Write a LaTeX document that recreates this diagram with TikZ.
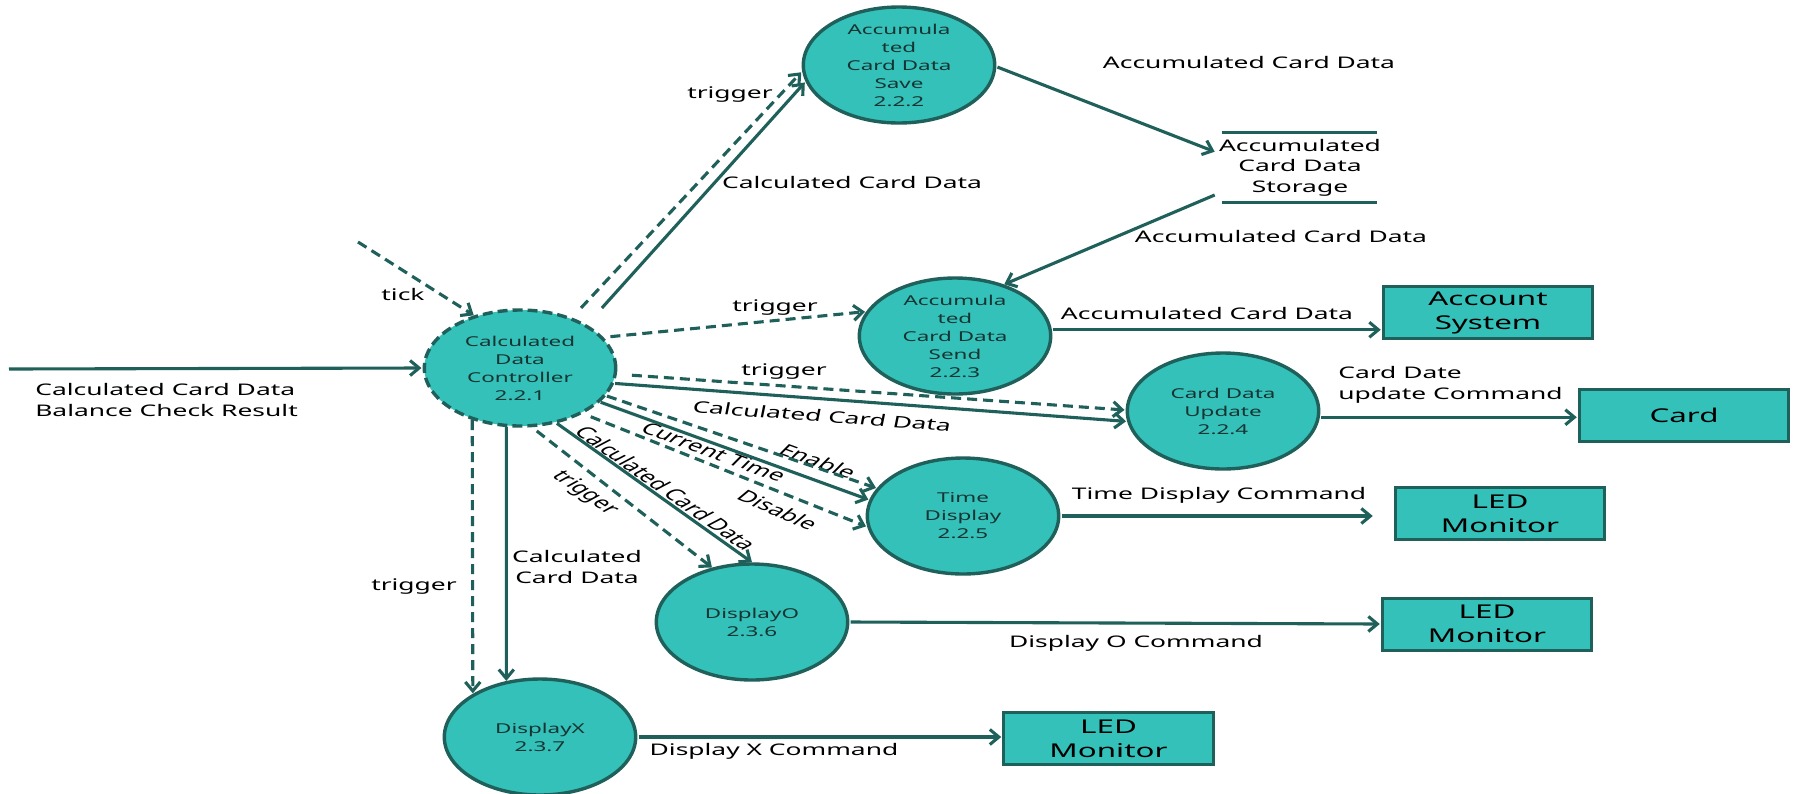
\documentclass[tikz,border=0pt]{standalone}
\usepackage{fontspec}
\setmainfont{Noto Sans}
\usetikzlibrary{arrows.meta}
\definecolor{procfill}{RGB}{52,193,185}
\definecolor{flowline}{RGB}{31,96,90}
\definecolor{proctext}{RGB}{22,52,50}
\tikzset{
  proc/.style={circle, draw=flowline, fill=procfill, line width=3.4pt,
    minimum size=116pt, inner sep=0pt, xscale=1.65, align=center,
    text=proctext, font=\fontsize{13.6}{18}\selectfont},
  ctrlproc/.style={proc, dash pattern=on 10pt off 5pt},
  extent/.style={rectangle, draw=flowline, fill=procfill, line width=3pt,
    minimum width=127pt, minimum height=52pt, inner sep=0pt, xscale=1.65,
    align=center, font=\fontsize{19}{24}\selectfont},
  flowtext/.style={inner sep=0pt, xscale=1.65, align=center,
    font=\fontsize{16}{20.5}\selectfont},
  store/.style={flowtext, minimum width=103pt, minimum height=69pt},
  flow/.style={draw=flowline, line width=3.1pt,
    -{Straight Barb[length=9pt,width=15pt]}},
  ctrl/.style={flow, dash pattern=on 10pt off 6pt}
}
\begin{document}
\begin{tikzpicture}[x=1pt,y=-1pt]
  \useasboundingbox (0,0) rectangle (1801,793);
  \node[ctrlproc] (p221) at (520,368) {Calculated\\Data\\Controller\\2.2.1};
  \node[proc] (p222) at (899,65) {Accumula\\ted\\Card Data\\Save\\2.2.2};
  \node[proc] (p223) at (955,336) {Accumula\\ted\\Card Data\\Send\\2.2.3};
  \node[proc] (p224) at (1223,411) {Card Data\\Update\\2.2.4};
  \node[proc] (p225) at (963,516) {Time\\Display\\2.2.5};
  \node[proc] (p236) at (752,622) {DisplayO\\2.3.6};
  \node[proc] (p237) at (540,737) {DisplayX\\2.3.7};
  \node[store] (store) at (1300,167.5) {Accumulated\\Card Data\\Storage};
  \node[extent] (acc) at (1488,312.5) {Account\\System};
  \node[extent] (card) at (1684,415.5) {Card};
  \node[extent] (led1) at (1500,513.5) {LED\\Monitor};
  \node[extent] (led2) at (1487,624) {LED\\Monitor};
  \node[extent] (led3) at (1108.5,738.5) {LED\\Monitor};
  \coordinate (inp) at (9,369);
  \coordinate (tk) at (358,242);

  \node[flowtext] (ltick) at (403,294) {tick};
  \node[flowtext, anchor=west, align=left] (lin) at (35,400) {Calculated Card Data\\Balance Check Result};
  \node[flowtext] (ltrig2) at (730,95) {trigger};
  \node[flowtext] (lcalc2) at (852,182) {Calculated Card Data};
  \node[flowtext] (lacc1) at (1249,62) {Accumulated Card Data};
  \node[flowtext] (lacc2) at (1281,236) {Accumulated Card Data};
  \node[flowtext] (ltrig3) at (775,308) {trigger};
  \node[flowtext] (lacc3) at (1207,313) {Accumulated Card Data};
  \node[flowtext] (ltrig4) at (784,372) {trigger};
  \node[flowtext, rotate=-7] (lcalc4) at (822,416) {Calculated Card Data};
  \node[flowtext, anchor=west, align=left] (lupd) at (1338,385) {Card Date\\update Command};
  \node[flowtext, rotate=-31] (ltime) at (714,452) {Current Time};
  \node[flowtext, rotate=-31] (lenab) at (818,461) {Enable};
  \node[flowtext, rotate=-36] (ldisab) at (778,510) {Disable};
  \node[flowtext, rotate=-48] (ltrig6) at (585,493) {trigger};
  \node[flowtext, rotate=-49] (lcalc6) at (666,488) {Calculated Card Data};
  \node[flowtext] (ltrig7) at (414,587) {trigger};
  \node[flowtext] (lcalc7) at (577,567) {Calculated\\Card Data};
  \node[flowtext] (ltdc) at (1219,495) {Time Display Command};
  \node[flowtext] (ldoc) at (1136,643) {Display O Command};
  \node[flowtext] (ldxc) at (774,751) {Display X Command};

  \begin{scope}[flow]
    \draw[ctrl] (tk) to (p221.118);
    \draw (inp) to (p221.west);
    \draw[ctrl, shorten <=13pt] (p221.58) to (p222.187);
    \draw[shorten <=22pt] (p221.47) to (p222.197);
    \draw (p222.358) to (store.163);
    \draw (store.208) to (p223.60);
    \draw[ctrl, shorten <=6pt] (p221.31) to (p223.156);
    \draw (p223.6) to (p223.6 -| acc.west);
    \draw[ctrl, shorten <=14pt] (p221.354) to (p224.179);
    \draw (p221.345) to (p224.190);
    \draw (p224.354) to (p224.354 -| card.west);
    \draw[ctrl] (p221.332) to (p225.152);
    \draw (p221.325) to (p225.164);
    \draw[ctrl, shorten <=8pt] (p221.310) to (p225.190);
    \draw[shorten >=20pt] (p225.east) to (p225.east -| led1.west);
    \draw (p221.292) to (p236.90);
    \draw[ctrl, shorten <=6pt] (p221.277) to (p236.114);
    \draw[ctrl] (p221.241) to (p237.133);
    \draw (p221.262) to (p237.110);
    \draw (p236.east) to (led2.west);
    \draw (p237.east) to (p237.east -| led3.west);
  \end{scope}
  \draw[draw=flowline, line width=3.1pt] ([xshift=7pt]store.north west) -- ([xshift=-8pt]store.north east);
  \draw[draw=flowline, line width=3.1pt] ([xshift=7pt]store.south west) -- ([xshift=-8pt]store.south east);
\end{tikzpicture}
\end{document}
